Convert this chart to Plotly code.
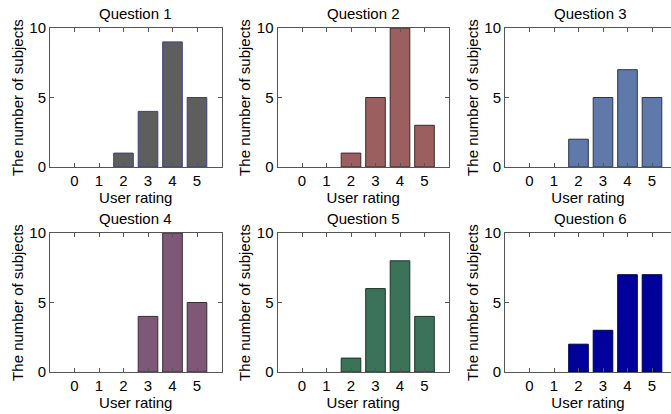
import plotly.graph_objects as go
from plotly.subplots import make_subplots

# Survey results: number of subjects giving each rating, per question
ratings = [0, 1, 2, 3, 4, 5]
questions = ["Question 1", "Question 2", "Question 3",
             "Question 4", "Question 5", "Question 6"]
q1_counts = [0, 0, 1, 4, 9, 5]
q2_counts = [0, 0, 1, 5, 10, 3]
q3_counts = [0, 0, 2, 5, 7, 5]
q4_counts = [0, 0, 0, 4, 10, 5]
q5_counts = [0, 0, 1, 6, 8, 4]
q6_counts = [0, 0, 2, 3, 7, 7]
y_ticks = [0, 5, 10]

counts = [q1_counts, q2_counts, q3_counts, q4_counts, q5_counts, q6_counts]
fill_colors = ["#5e5e5e", "#9a5f5e", "#5e79aa", "#7e5876", "#3b7358", "#00009a"]
edge_colors = ["#3b3f86", "#3a2a2a", "#2e3448", "#3a2a36", "#1e3328", "#000050"]

W, H = 671, 414
# panel pixel boxes (left, right) and (top, bottom)
col_px = [(50, 221.5), (277.5, 449), (505, 676.5)]
row_px = [(28, 167), (233, 372)]
unit_px = (col_px[0][1] - col_px[0][0]) / 7.0

FONT = "Liberation Sans, Arial, sans-serif"
AX_COLOR = "#555555"

fig = make_subplots(rows=2, cols=3)

annotations = []
for i, (name, vals) in enumerate(zip(questions, counts)):
    r, c = divmod(i, 3)
    # empty rating bins are left undrawn
    bar_heights = [v if v > 0 else None for v in vals]
    fig.add_trace(
        go.Bar(
            x=ratings, y=bar_heights, width=0.8,
            marker=dict(color=fill_colors[i],
                        line=dict(color=edge_colors[i], width=1)),
            showlegend=False, hoverinfo="x+y",
        ),
        row=r + 1, col=c + 1,
    )
    left, right = col_px[c]
    right_vis = min(right, W)
    x_max = -1 + (right_vis - left) / unit_px
    top, bottom = row_px[r]
    ax_idx = "" if i == 0 else str(i + 1)
    fig.layout["xaxis" + ax_idx].update(
        domain=[left / W, right_vis / W],
        range=[-1, x_max],
        tickmode="array", tickvals=ratings, ticktext=[str(v) for v in ratings],
        ticks="inside", ticklen=4, tickcolor=AX_COLOR,
        showline=True, linecolor=AX_COLOR, linewidth=1, mirror="ticks",
        showgrid=False, zeroline=False, automargin=False,
        tickfont=dict(family=FONT, size=15, color="black"),
        ticklabelstandoff=0,
        title=dict(text="User rating", standoff=1,
                   font=dict(family=FONT, size=15, color="black")),
        fixedrange=True,
    )
    fig.layout["yaxis" + ax_idx].update(
        domain=[1 - bottom / H, 1 - top / H],
        range=[0, 10],
        tickmode="array", tickvals=y_ticks, ticktext=[str(v) for v in y_ticks],
        ticks="inside", ticklen=4, tickcolor=AX_COLOR,
        showline=True, linecolor=AX_COLOR, linewidth=1,
        mirror="ticks" if right <= W else False,
        showgrid=False, zeroline=False, automargin=False,
        tickfont=dict(family=FONT, size=15, color="black"),
        ticklabelstandoff=0,
        title=dict(text="The number of subjects", standoff=2,
                   font=dict(family=FONT, size=15, color="black")),
        fixedrange=True,
    )
    annotations.append(dict(
        text=name, xref="paper", yref="paper",
        x=(left + right) / 2 / W, y=1 - (top - 15) / H,
        xanchor="center", yanchor="middle", showarrow=False,
        font=dict(family=FONT, size=15, color="black"),
    ))

fig.update_layout(
    width=W, height=H,
    margin=dict(l=0, r=0, t=0, b=0, autoexpand=False),
    paper_bgcolor="white", plot_bgcolor="white",
    annotations=annotations,
    bargap=0.2,
)

fig.write_html("out.html", config={"displayModeBar": False})
